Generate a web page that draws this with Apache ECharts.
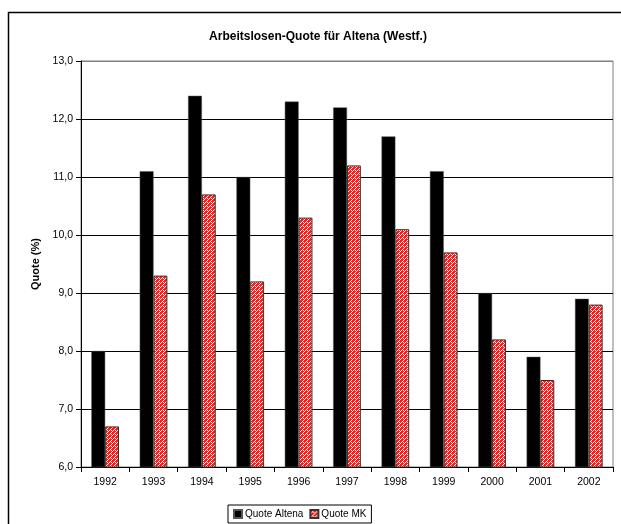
<!DOCTYPE html>
<html><head><meta charset="utf-8">
<script src="https://cdn.jsdelivr.net/npm/echarts@6/dist/echarts.min.js"></script>
<style>html,body{margin:0;padding:0;background:#fff}#c{width:621px;height:524px}</style>
</head><body><div id="c"></div>
<script>
const categories = ['1992','1993','1994','1995','1996','1997','1998','1999','2000','2001','2002'];
const quoteAltena = [8.0, 11.1, 12.4, 11.0, 12.3, 12.2, 11.7, 11.1, 9.0, 7.9, 8.9];
const quoteMK = [6.7, 9.3, 10.7, 9.2, 10.3, 11.2, 10.1, 9.7, 8.2, 7.5, 8.8];
const seriesNames = ['Quote Altena', 'Quote MK'];

function hatch(){
  const c = document.createElement('canvas');
  c.width = 4; c.height = 4;
  const g = c.getContext('2d');
  g.fillStyle = '#ff1a1a'; g.fillRect(0,0,4,4);
  g.fillStyle = '#ffffff';
  g.fillRect(3,0,1,1); g.fillRect(2,1,1,1); g.fillRect(1,2,1,1); g.fillRect(0,3,1,1);
  g.fillRect(3,2,1,1);
  return c;
}
const pat = {image: hatch(), repeat: 'repeat'};

const chart = echarts.init(document.getElementById('c'), null, {renderer:'canvas'});
const font = 'Arial, "Liberation Sans", sans-serif';
chart.setOption({
  animation: false,
  textStyle: {fontFamily: font},
  title: {text: 'Arbeitslosen-Quote für Altena (Westf.)', left: 313, textAlign: 'center', top: 26,
    textStyle: {fontSize: 12, fontWeight: 'bold', color: '#000', fontFamily: font}},
  graphic: [{type:'rect', shape:{x:8.5, y:12.5, width:700, height:700}, style:{fill:'none', stroke:'#000', lineWidth:1.5}, silent:true, z:-1}],
  grid: {left: 81, top: 61, right: 8, bottom: 57, show: true, borderColor: '#808080', borderWidth: 1, backgroundColor: '#fff'},
  legend: {bottom: 1, left: 228, icon: 'rect', itemWidth: 8, itemHeight: 8, itemGap: 6, padding: [4,5,4,5],
    borderColor: '#000', borderWidth: 1, textStyle: {fontSize: 10, color: '#000', fontFamily: font, padding:[0,0,0,-2]},
    data: seriesNames},
  xAxis: {type: 'category', data: categories, boundaryGap: true,
    axisLine: {lineStyle: {color: '#000'}}, axisTick: {show: true, alignWithLabel: false, length: 5, lineStyle:{color:'#000'}},
    axisLabel: {color: '#000', fontSize: 10.5, margin: 10, fontFamily: font}},
  yAxis: {type: 'value', min: 6, max: 13, interval: 1,
    name: 'Quote (%)', nameLocation: 'middle', nameGap: 40, nameRotate: 90,
    nameTextStyle: {fontSize: 11, fontWeight: 'bold', color: '#000', fontFamily: font},
    axisLine: {show: true, lineStyle: {color: '#000'}}, axisTick: {show: true, length: 5, inside: false, lineStyle:{color:'#000'}},
    axisLabel: {color: '#000', fontSize: 10.5, margin: 8, fontFamily: font, formatter: v => v.toFixed(1).replace('.', ',')},
    splitLine: {show: true, lineStyle: {color: ['#000','#000','#000','#000','#000','#000','#000','#808080'], width: 1}}},
  series: [
    {name: seriesNames[0], type: 'bar', data: quoteAltena, barGap: '0%', barCategoryGap: '42.8%',
      itemStyle: {color: '#000', borderColor: '#555', borderWidth: 0.5}},
    {name: seriesNames[1], type: 'bar', data: quoteMK,
      itemStyle: {color: pat, borderColor: '#333', borderWidth: 1}}
  ]
});
</script></body></html>
